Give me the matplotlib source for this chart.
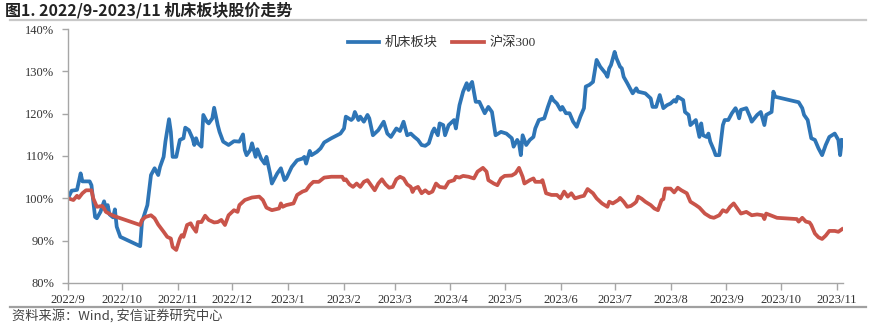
import matplotlib
matplotlib.use('Agg')
import matplotlib.pyplot as plt
import matplotlib.dates as mdates
from matplotlib.lines import Line2D
from matplotlib.ticker import FuncFormatter
import pandas as pd

# 机床板块 (normalised, %)
jc_dates = ['2022-09-01', '2022-09-03', '2022-09-06', '2022-09-08', '2022-09-09', '2022-09-13',
            '2022-09-14', '2022-09-16', '2022-09-17', '2022-09-19', '2022-09-21', '2022-09-22',
            '2022-09-23', '2022-09-24', '2022-09-26', '2022-09-27', '2022-09-28', '2022-09-30',
            '2022-10-11', '2022-10-12', '2022-10-15', '2022-10-17', '2022-10-19', '2022-10-21',
            '2022-10-22', '2022-10-24', '2022-10-25', '2022-10-27', '2022-10-28', '2022-10-29',
            '2022-10-31', '2022-11-02', '2022-11-04', '2022-11-05', '2022-11-07', '2022-11-09',
            '2022-11-10', '2022-11-11', '2022-11-12', '2022-11-14', '2022-11-15', '2022-11-17',
            '2022-11-18', '2022-11-20', '2022-11-21', '2022-11-23', '2022-11-24', '2022-11-26',
            '2022-11-29', '2022-12-02', '2022-12-05', '2022-12-07', '2022-12-08', '2022-12-09',
            '2022-12-11', '2022-12-12', '2022-12-14', '2022-12-15', '2022-12-17', '2022-12-19',
            '2022-12-20', '2022-12-22', '2022-12-23', '2022-12-26', '2022-12-28', '2022-12-30',
            '2022-12-31', '2023-01-03', '2023-01-06', '2023-01-09', '2023-01-10', '2023-01-11',
            '2023-01-13', '2023-01-14', '2023-01-17', '2023-01-19', '2023-01-21', '2023-01-25',
            '2023-01-30', '2023-02-01', '2023-02-02', '2023-02-05', '2023-02-06', '2023-02-07',
            '2023-02-09', '2023-02-10', '2023-02-12', '2023-02-14', '2023-02-15', '2023-02-17',
            '2023-02-20', '2023-02-23', '2023-02-25', '2023-02-27', '2023-03-02', '2023-03-04',
            '2023-03-06', '2023-03-08', '2023-03-10', '2023-03-12', '2023-03-14', '2023-03-16',
            '2023-03-18', '2023-03-20', '2023-03-22', '2023-03-23', '2023-03-25', '2023-03-26',
            '2023-03-28', '2023-03-29', '2023-03-31', '2023-04-03', '2023-04-04', '2023-04-06',
            '2023-04-08', '2023-04-10', '2023-04-11', '2023-04-12', '2023-04-13', '2023-04-15',
            '2023-04-17', '2023-04-20', '2023-04-22', '2023-04-24', '2023-04-26', '2023-04-29',
            '2023-05-02', '2023-05-05', '2023-05-06', '2023-05-08', '2023-05-09', '2023-05-10',
            '2023-05-11', '2023-05-13', '2023-05-15', '2023-05-17', '2023-05-18', '2023-05-20',
            '2023-05-23', '2023-05-25', '2023-05-27', '2023-05-28', '2023-05-30', '2023-06-01',
            '2023-06-02', '2023-06-04', '2023-06-06', '2023-06-08', '2023-06-10', '2023-06-12',
            '2023-06-14', '2023-06-15', '2023-06-17', '2023-06-19', '2023-06-21', '2023-06-23',
            '2023-06-26', '2023-06-27', '2023-06-28', '2023-06-29', '2023-07-01', '2023-07-02',
            '2023-07-04', '2023-07-05', '2023-07-06', '2023-07-08', '2023-07-10', '2023-07-11',
            '2023-07-13', '2023-07-14', '2023-07-18', '2023-07-21', '2023-07-22', '2023-07-24',
            '2023-07-26', '2023-07-28', '2023-07-30', '2023-08-01', '2023-08-03', '2023-08-04',
            '2023-08-05', '2023-08-08', '2023-08-09', '2023-08-11', '2023-08-12', '2023-08-14',
            '2023-08-15', '2023-08-17', '2023-08-18', '2023-08-19', '2023-08-21', '2023-08-22',
            '2023-08-23', '2023-08-25', '2023-08-26', '2023-08-28', '2023-08-30', '2023-08-31',
            '2023-09-02', '2023-09-04', '2023-09-06', '2023-09-07', '2023-09-08', '2023-09-09',
            '2023-09-12', '2023-09-14', '2023-09-15', '2023-09-18', '2023-09-20', '2023-09-22',
            '2023-09-23', '2023-09-26', '2023-09-27', '2023-09-28', '2023-10-11', '2023-10-13',
            '2023-10-14', '2023-10-16', '2023-10-18', '2023-10-20', '2023-10-22', '2023-10-24',
            '2023-10-26', '2023-10-28', '2023-10-31', '2023-11-02', '2023-11-03', '2023-11-04']
jc_values = [100.0, 101.8, 102.0, 105.9, 104.0, 104.0,
             103.1, 95.6, 95.3, 96.8, 99.3, 97.6,
             98.4, 96.2, 95.5, 97.4, 93.3, 90.9,
             88.7, 94.4, 98.4, 105.5, 107.1, 105.5,
             107.4, 109.8, 113.4, 118.7, 115.7, 109.8,
             109.8, 113.8, 114.2, 116.7, 116.1, 114.2,
             112.6, 114.2, 113.0, 112.2, 119.7, 118.1,
             117.7, 118.9, 121.4, 117.3, 115.7, 113.4,
             112.6, 113.5, 113.4, 115.1, 111.4, 110.2,
             111.4, 113.0, 109.8, 111.6, 109.4, 108.2,
             109.8, 105.9, 103.5, 105.9, 107.1, 104.3,
             104.7, 107.4, 109.0, 109.4, 109.8, 108.2,
             111.2, 110.2, 111.0, 111.8, 113.2, 114.2,
             115.3, 116.5, 119.3, 118.5, 118.9, 120.4,
             118.5, 119.3, 118.1, 119.7, 118.9, 114.9,
             116.1, 118.1, 115.3, 114.5, 116.5, 115.9,
             118.1, 114.9, 115.3, 114.5, 113.8, 112.6,
             112.4, 113.0, 115.7, 116.5, 114.9, 117.7,
             117.3, 114.9, 117.3, 118.5, 116.5, 122.0,
             125.2, 127.2, 125.6, 126.8, 127.5, 122.8,
             122.8, 120.1, 121.6, 120.4, 114.9, 115.7,
             115.3, 114.2, 112.2, 113.8, 113.0, 110.2,
             114.9, 112.6, 113.8, 114.5, 116.5, 118.5,
             118.9, 121.6, 124.0, 123.2, 122.4, 120.9,
             121.6, 120.1, 120.1, 118.1, 116.9, 119.3,
             121.3, 126.4, 126.8, 127.5, 132.7, 131.1,
             129.5, 128.7, 130.7, 131.5, 134.6, 133.1,
             131.1, 130.7, 128.7, 127.2, 125.6, 124.8,
             126.0, 125.2, 124.8, 123.6, 121.6, 121.6,
             124.4, 121.3, 122.0, 122.4, 123.2, 122.8,
             124.0, 123.2, 120.4, 119.7, 117.3, 118.1,
             118.5, 114.5, 117.7, 114.9, 114.5, 115.3,
             113.4, 111.4, 110.2, 110.2, 117.3, 118.5,
             118.5, 120.1, 121.3, 120.4, 118.9, 120.9,
             121.3, 119.3, 118.1, 119.7, 120.4, 117.3,
             119.7, 120.4, 125.2, 124.0, 122.7, 121.3,
             119.7, 118.5, 114.2, 113.8, 111.8, 110.2,
             112.6, 114.5, 115.3, 113.8, 110.2, 113.8]

# 沪深300 (normalised, %)
hs_dates = ['2022-09-01', '2022-09-04', '2022-09-06', '2022-09-07', '2022-09-09', '2022-09-11',
            '2022-09-14', '2022-09-15', '2022-09-17', '2022-09-20', '2022-09-21', '2022-09-22',
            '2022-09-26', '2022-09-28', '2022-10-11', '2022-10-12', '2022-10-14', '2022-10-17',
            '2022-10-19', '2022-10-21', '2022-10-24', '2022-10-26', '2022-10-28', '2022-10-29',
            '2022-10-31', '2022-11-02', '2022-11-03', '2022-11-04', '2022-11-06', '2022-11-08',
            '2022-11-09', '2022-11-11', '2022-11-12', '2022-11-14', '2022-11-16', '2022-11-18',
            '2022-11-21', '2022-11-23', '2022-11-25', '2022-11-27', '2022-11-29', '2022-12-02',
            '2022-12-04', '2022-12-05', '2022-12-08', '2022-12-12', '2022-12-16', '2022-12-18',
            '2022-12-20', '2022-12-23', '2022-12-27', '2022-12-28', '2022-12-29', '2022-12-31',
            '2023-01-04', '2023-01-06', '2023-01-09', '2023-01-11', '2023-01-13', '2023-01-15',
            '2023-01-18', '2023-01-21', '2023-01-25', '2023-01-31', '2023-02-01', '2023-02-02',
            '2023-02-04', '2023-02-06', '2023-02-08', '2023-02-10', '2023-02-12', '2023-02-14',
            '2023-02-16', '2023-02-18', '2023-02-20', '2023-02-22', '2023-02-24', '2023-02-26',
            '2023-02-28', '2023-03-02', '2023-03-04', '2023-03-06', '2023-03-08', '2023-03-10',
            '2023-03-11', '2023-03-12', '2023-03-14', '2023-03-16', '2023-03-18', '2023-03-20',
            '2023-03-22', '2023-03-24', '2023-03-26', '2023-03-29', '2023-03-31', '2023-04-03',
            '2023-04-04', '2023-04-06', '2023-04-08', '2023-04-11', '2023-04-14', '2023-04-16',
            '2023-04-19', '2023-04-21', '2023-04-22', '2023-04-25', '2023-04-27', '2023-04-29',
            '2023-05-01', '2023-05-05', '2023-05-07', '2023-05-09', '2023-05-11', '2023-05-12',
            '2023-05-15', '2023-05-17', '2023-05-18', '2023-05-21', '2023-05-22', '2023-05-24',
            '2023-05-27', '2023-05-30', '2023-06-01', '2023-06-03', '2023-06-05', '2023-06-07',
            '2023-06-09', '2023-06-12', '2023-06-14', '2023-06-16', '2023-06-19', '2023-06-21',
            '2023-06-24', '2023-06-27', '2023-06-28', '2023-06-30', '2023-07-03', '2023-07-04',
            '2023-07-06', '2023-07-08', '2023-07-10', '2023-07-12', '2023-07-13', '2023-07-14',
            '2023-07-16', '2023-07-18', '2023-07-21', '2023-07-23', '2023-07-25', '2023-07-27',
            '2023-07-28', '2023-07-29', '2023-08-01', '2023-08-03', '2023-08-05', '2023-08-07',
            '2023-08-10', '2023-08-12', '2023-08-15', '2023-08-17', '2023-08-20', '2023-08-23',
            '2023-08-25', '2023-08-28', '2023-08-30', '2023-09-01', '2023-09-03', '2023-09-05',
            '2023-09-07', '2023-09-09', '2023-09-12', '2023-09-15', '2023-09-18', '2023-09-21',
            '2023-09-22', '2023-09-23', '2023-09-26', '2023-09-29', '2023-10-07', '2023-10-10',
            '2023-10-11', '2023-10-13', '2023-10-15', '2023-10-17', '2023-10-18', '2023-10-20',
            '2023-10-22', '2023-10-24', '2023-10-26', '2023-10-28', '2023-10-31', '2023-11-02',
            '2023-11-04']
hs_values = [100.0, 99.6, 100.6, 100.1, 101.2, 101.9,
             101.9, 100.0, 98.0, 98.2, 97.6, 96.8,
             95.9, 95.6, 93.7, 94.9, 95.6, 96.0,
             95.3, 93.8, 92.1, 90.9, 90.5, 88.5,
             87.8, 90.5, 91.3, 90.9, 93.7, 94.1,
             93.3, 92.1, 94.4, 94.4, 95.9, 94.9,
             94.3, 94.4, 94.9, 93.7, 96.0, 97.2,
             96.8, 98.4, 99.6, 100.2, 100.4, 99.6,
             97.8, 97.2, 97.6, 98.8, 98.0, 98.4,
             98.8, 100.8, 101.6, 101.9, 103.1, 103.9,
             103.9, 104.9, 105.1, 105.1, 104.3, 104.5,
             103.3, 102.7, 103.5, 102.7, 103.9, 104.3,
             103.1, 101.9, 103.5, 104.5, 103.3, 102.5,
             102.7, 104.5, 105.1, 104.7, 103.3, 102.7,
             101.5, 102.3, 102.7, 101.2, 101.9, 101.2,
             101.6, 103.5, 102.7, 102.5, 103.9, 104.3,
             105.1, 104.9, 105.3, 105.1, 104.7, 106.3,
             107.2, 106.3, 104.3, 103.5, 103.1, 104.7,
             105.3, 105.4, 105.9, 107.2, 105.1, 103.5,
             104.3, 104.7, 103.9, 103.9, 104.3, 101.2,
             100.8, 100.8, 100.0, 101.6, 100.4, 101.2,
             100.0, 100.4, 100.6, 102.2, 101.2, 100.0,
             98.8, 98.0, 99.2, 98.8, 99.6, 100.1,
             99.2, 98.0, 98.2, 98.8, 99.2, 100.4,
             99.9, 99.2, 98.4, 97.6, 97.2, 99.6,
             99.8, 102.3, 102.3, 101.4, 102.5, 101.9,
             101.2, 99.2, 98.4, 97.8, 96.4, 95.6,
             95.4, 96.0, 97.2, 96.8, 98.0, 98.8,
             97.6, 96.4, 96.8, 96.0, 96.2, 96.0,
             95.1, 96.4, 95.9, 95.4, 95.2, 95.1,
             94.5, 95.4, 94.5, 94.3, 93.7, 91.7,
             90.8, 90.4, 91.2, 92.3, 92.3, 92.1,
             92.7]

y_ticks = [80, 90, 100, 110, 120, 130, 140]

blue = '#2e75b6'
red = '#c9544a'
axis_gray = '#a6a6a6'

cjk = ['Noto Sans CJK SC', 'DejaVu Sans']
serif_cjk = ['Liberation Serif', 'Noto Sans CJK SC']

fig = plt.figure(figsize=(8.72, 3.28), dpi=100)
ax = fig.add_axes([68 / 872, 1 - 283 / 328, (843 - 68) / 872, 254 / 328])

ax.plot(pd.to_datetime(jc_dates), jc_values, color=blue, lw=2.7, label='机床板块',
        solid_joinstyle='round')
ax.plot(pd.to_datetime(hs_dates), hs_values, color=red, lw=2.7, label='沪深300',
        solid_joinstyle='round')

ax.set_ylim(80, 140)
ax.set_yticks(y_ticks)
ax.yaxis.set_major_formatter(FuncFormatter(lambda v, p: f'{int(v)}%'))
ax.set_xlim(pd.Timestamp('2022-09-01'), pd.Timestamp('2023-11-04 14:00'))
ax.xaxis.set_major_locator(mdates.MonthLocator())
ax.xaxis.set_major_formatter(FuncFormatter(
    lambda v, p: f'{mdates.num2date(v).year}/{mdates.num2date(v).month}'))

for s in ['top', 'right']:
    ax.spines[s].set_visible(False)
for s in ['left', 'bottom']:
    ax.spines[s].set_color(axis_gray)
    ax.spines[s].set_linewidth(1.0)
ax.tick_params(axis='y', length=4, width=1.0, color=axis_gray, pad=6, labelsize=9,
               labelcolor='#333333')
ax.tick_params(axis='x', length=5, width=1.0, color=axis_gray, pad=3, labelsize=9,
               labelcolor='#333333')
for lab in ax.get_xticklabels() + ax.get_yticklabels():
    lab.set_family(serif_cjk)

leg = ax.legend(loc='center', bbox_to_anchor=(0.482, 0.945), ncol=2, frameon=False,
                handlelength=2.4, handletextpad=0.4, columnspacing=1.1,
                prop={'family': serif_cjk, 'size': 9.5})
for t in leg.get_texts():
    t.set_color('#333333')

# title and rules
fig.text(5 / 872, 1 - 10 / 328, '图1. 2022/9-2023/11 机床板块股价走势', family=cjk,
         weight='bold', fontsize=11.5, va='center', ha='left', color='#222222')
fig.add_artist(Line2D([10 / 872, 866 / 872], [1 - 20 / 328] * 2, color='#c8c8c8', lw=1.6))
fig.add_artist(Line2D([10 / 872, 866 / 872], [1 - 307 / 328] * 2, color='#a0a0a0', lw=1.6))
fig.text(12 / 872, 1 - 316 / 328, '资料来源：Wind, 安信证券研究中心', family=cjk,
         fontsize=9.5, va='center', ha='left', color='#444444')

fig.savefig('out.png', dpi=100)
